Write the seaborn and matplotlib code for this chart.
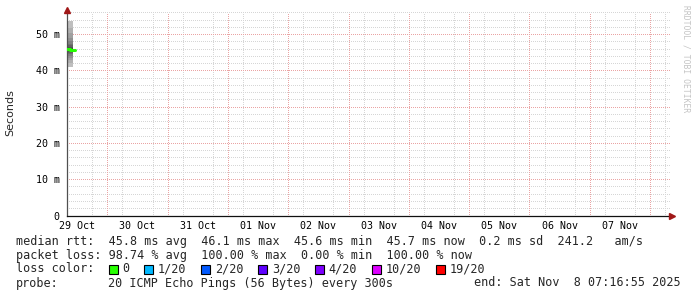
import matplotlib
matplotlib.use("Agg")
import matplotlib.pyplot as plt
import matplotlib.dates as mdates
import matplotlib.ticker as mticker
from matplotlib.patches import Rectangle
import seaborn as sns
import pandas as pd
import numpy as np

# ---------------- data ----------------
start_time = pd.Timestamp("2025-10-29 07:45:00")
end_time = pd.Timestamp("2025-11-08 07:45:00")

# time slots with data (only at the very beginning, rest is 100% loss)
slot_times = [pd.Timestamp("2025-10-29 07:45:00"),
              pd.Timestamp("2025-10-29 09:10:00"),
              pd.Timestamp("2025-10-29 11:00:00")]
median_ms = [45.8, 45.7, 45.7]
# sorted ping RTTs (ms) of the smoke for the data slot
pings_ms = [41.0, 42.0, 42.8, 43.5, 44.0, 44.5, 44.9, 45.2, 45.5, 45.8,
            45.9, 46.2, 46.5, 46.9, 47.4, 48.1, 49.0, 50.2, 51.8, 53.6]

y_ticks = [0, 10, 20, 30, 40, 50]
y_tick_labels = ["0", "10 m", "20 m", "30 m", "40 m", "50 m"]

rtt_stats = ["45.8 ms avg", "46.1 ms max", "45.6 ms min", "45.7 ms now", "0.2 ms sd", "241.2   am/s"]
loss_stats = ["98.74 % avg", "100.00 % max", "0.00 % min", "100.00 % now"]
loss_labels = ["0", "1/20", "2/20", "3/20", "4/20", "10/20", "19/20"]
loss_colors = ["#26ff00", "#00b8ff", "#0059ff", "#5e00ff", "#7e00ff", "#dd00ff", "#ff0000"]
probe_text = "20 ICMP Echo Pings (56 Bytes) every 300s"
end_text = "end: Sat Nov  8 07:16:55 2025"

# ---------------- figure ----------------
sns.set_style("white")
plt.rcParams["font.family"] = ["DejaVu Sans Mono", "DejaVu Sans"]

W, H = 697, 297
fig = plt.figure(figsize=(W / 100, H / 100), dpi=100)
fig.patch.set_facecolor("white")
ax_l, ax_r, ax_t, ax_b = 66.5, 669.5, 12, 215.5
ax = fig.add_axes([ax_l / W, (H - ax_b) / H, (ax_r - ax_l) / W, (ax_b - ax_t) / H])
ax.set_facecolor("white")

ax.set_xlim(start_time, end_time)
ax.set_ylim(0, 56.1)

# grid
MGRID = "#eaa4a4"
GRID = "#d6d6d6"
gkw = dict(linestyle=(0, (1, 2)), linewidth=0.72, antialiased=False)
ax.xaxis.set_major_locator(mdates.HourLocator(byhour=[12]))
ax.xaxis.set_major_formatter(mdates.DateFormatter("%d %b"))
ax.xaxis.set_minor_locator(mdates.HourLocator(byhour=[6, 12, 18]))
ax.yaxis.set_major_locator(mticker.FixedLocator(y_ticks))
ax.yaxis.set_major_formatter(mticker.FixedFormatter(y_tick_labels))
ax.yaxis.set_minor_locator(mticker.MultipleLocator(2))
ax.grid(False)
ax.grid(True, which="minor", axis="x", color=GRID, **gkw)
ax.grid(True, which="minor", axis="y", color=GRID, **gkw)
ax.grid(True, which="major", axis="y", color=MGRID, **gkw)
for d in pd.date_range(start_time.normalize() + pd.Timedelta(days=1), end_time, freq="D"):
    ax.axvline(d, color=MGRID, zorder=0.6, **gkw)
ax.set_axisbelow(True)

ax.tick_params(axis="both", which="both", length=0, labelsize=7.2, colors="black")
ax.tick_params(axis="y", pad=5)
ax.tick_params(axis="x", pad=4)

for s in ["top", "right"]:
    ax.spines[s].set_visible(False)
ax.spines["left"].set_color("#505050")
ax.spines["bottom"].set_color("#101010")
ax.spines["left"].set_linewidth(0.9)
ax.spines["bottom"].set_linewidth(0.9)

# smoke
n = len(pings_ms)
smoke_x = [slot_times[0], slot_times[0] + pd.Timedelta(hours=2.4)]
greys = np.linspace(0.75, 0.2, n // 2)
for i in range(n // 2):
    g = greys[i]
    ax.fill_between(smoke_x, [pings_ms[i]] * 2, [pings_ms[n - 1 - i]] * 2,
                    color=(g, g, g), linewidth=0, zorder=2)

# median line
df = pd.DataFrame({"time": slot_times, "median": median_ms})
sns.lineplot(data=df, x="time", y="median", ax=ax, color=loss_colors[0],
             linewidth=2.2, drawstyle="steps-post", zorder=3)
ax.set_xlabel("")
ax.set_ylabel("")

# arrows
ARROW = "#a01818"
ax.plot([0], [1.012], marker="^", markersize=4.5, color=ARROW, transform=ax.transAxes,
        clip_on=False, zorder=5)
ax.plot([1.004], [0], marker=">", markersize=4.5, color=ARROW, transform=ax.transAxes,
        clip_on=False, zorder=5)

# y label
fig.text(10 / W, 1 - 113 / H, "Seconds", rotation=90, ha="center", va="center",
         fontsize=8, family="DejaVu Sans")

# watermark
fig.text(686 / W, 1 - 59 / H, "RRDTOOL / TOBI OETIKER", rotation=270, ha="center",
         va="center", fontsize=5.8, color="#c4c4c4")

# legend
fs = 8.5
cw = 0.602 * fs * 100 / 72  # char width in px
x0 = 16

def put(col, y, s, **kw):
    fig.text((x0 + col * cw) / W, 1 - y / H, s, ha="left", va="center", fontsize=fs, **kw)

line1 = "median rtt:  " + "  ".join(rtt_stats)
line2 = "packet loss: " + "  ".join(loss_stats)
put(0, 241, line1)
put(0, 255, line2)
put(0, 269, "loss color:")
col = 13
for lab, colr in zip(loss_labels, loss_colors):
    sx = x0 + col * cw + 0.5
    fig.patches.append(Rectangle((sx / W, 1 - 273.5 / H), 9 / W, 9 / H,
                                 transform=fig.transFigure, facecolor=colr,
                                 edgecolor="black", linewidth=0.8))
    put(col + 2, 269, lab)
    col += 2 + len(lab) + 2
put(0, 283, "probe:")
put(13, 283, probe_text)
fig.text(681 / W, 1 - 283 / H, end_text, ha="right", va="center", fontsize=fs)

fig.savefig("out.png", dpi=100, facecolor="white")
